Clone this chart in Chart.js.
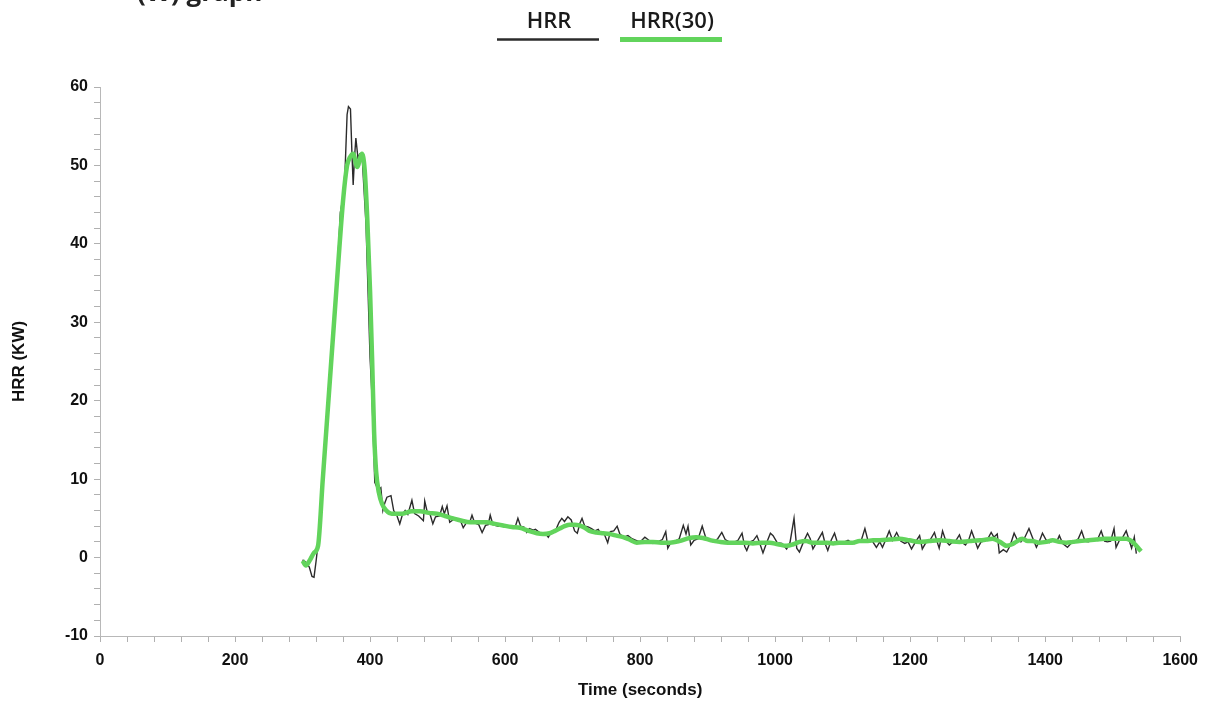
<!DOCTYPE html>
<html>
<head>
<meta charset="utf-8">
<script src="https://cdn.jsdelivr.net/npm/chart.js@4.4.1/dist/chart.umd.min.js"></script>
<style>
  html, body { margin: 0; padding: 0; background: #fff; }
  #wrap { width: 1207px; height: 707px; }
</style>
</head>
<body>
<div id="wrap"><canvas id="chart" width="1207" height="707"></canvas></div>
<script>
// values
var chartTitle = "(W) graph";
var seriesNames = ["HRR", "HRR(30)"];
var xTitle = "Time (seconds)";
var yTitle = "HRR (KW)";

// HRR, raw (seconds / kW)
var hrrTime = [300,305,310,314,317,320,324,330,336,342,348,353,356,360,363,366,368,371,373,375,377,379,382,385,388,391,394,397,400,403,405,407,412,416,419,422,425,431,435,440,444,448,452,456,462,466,472,479,481,485,489,493,497,503,507,510,514,518,524,530,534,538,543,548,551,555,561,566,571,575,578,582,590,597,604,610,615,619,623,628,632,636,642,645,651,656,660,664,669,675,680,684,688,693,698,703,707,711,714,718,723,728,733,738,742,746,752,756,761,766,770,776,782,788,794,800,807,813,819,826,833,838,841,846,852,858,864,868,871,875,880,886,892,897,903,909,915,921,926,932,938,945,951,955,958,963,968,973,977,982,987,993,997,1003,1010,1017,1022,1028,1032,1036,1042,1048,1052,1056,1062,1066,1070,1074,1078,1083,1088,1092,1097,1103,1108,1113,1118,1124,1128,1133,1138,1144,1150,1155,1159,1164,1169,1174,1180,1186,1192,1197,1202,1208,1214,1218,1224,1230,1236,1240,1243,1248,1253,1258,1263,1268,1273,1277,1282,1287,1291,1296,1300,1305,1310,1315,1320,1324,1329,1332,1338,1343,1348,1354,1359,1364,1370,1376,1381,1387,1392,1396,1401,1406,1412,1417,1421,1426,1433,1438,1444,1449,1454,1459,1464,1469,1474,1478,1483,1488,1492,1497,1502,1505,1510,1515,1520,1524,1528,1532,1535];
var hrrValue = [-0.3,-0.6,-1.2,-2.4,-2.5,-0.5,2.5,9,17,25,32,39,44,46,49.4,56.5,57.5,57.2,52,47.5,51,53.5,51,51.5,51.5,47,42.5,34,25.5,20.4,15,9.6,8.6,8.9,6.0,7.0,7.7,7.9,6.0,5.3,4.3,5.5,6.0,5.5,7.3,5.6,5.3,4.7,7.2,5.7,5.5,4.3,5.2,5.3,6.5,5.6,6.6,4.5,4.9,4.8,4.7,3.8,4.5,4.6,5.4,4.4,4.2,3.2,4.1,4.2,5.4,4.2,4.0,4.1,3.9,3.8,3.9,5.0,4.0,3.9,3.2,3.7,3.5,3.6,3.2,3.0,3.1,2.6,3.3,3.5,4.5,5.0,4.6,5.2,4.8,3.4,3.1,4.4,5.0,4.0,3.9,3.7,3.4,3.6,3.0,3.2,1.9,3.3,3.4,4.0,3.0,2.6,2.8,2.4,2.2,2.0,2.6,2.2,1.8,2.0,2.3,3.3,1.2,2.0,2.1,2.4,4.1,3.0,4.0,1.6,2.2,2.4,4.0,2.6,2.2,2.0,2.4,3.2,2.3,2.0,1.9,2.2,3.1,1.4,0.9,2.0,2.2,2.8,1.9,0.6,1.8,3.1,2.8,1.9,1.8,1.1,1.9,5.0,1.2,0.7,2.0,3.1,2.4,1.1,2.0,2.6,3.2,1.8,0.9,2.2,3.1,2.0,1.8,2.0,2.2,1.9,1.8,2.1,2.3,3.7,2.0,2.1,1.3,2.0,1.3,2.3,3.4,2.2,3.2,2.1,1.8,2.0,1.1,2.0,2.8,1.1,2.0,2.3,3.2,2.0,1.2,3.4,2.1,1.6,2.0,2.2,2.9,1.9,1.6,2.3,3.4,2.2,1.2,2.0,2.1,2.4,3.2,2.6,3.0,0.6,1.0,0.7,1.5,3.1,2.2,2.0,2.6,3.7,2.6,1.3,2.2,3.1,2.3,1.9,2.2,2.0,2.8,1.8,1.3,1.8,2.0,2.4,3.4,2.1,2.0,2.2,2.3,2.4,3.4,2.1,2.0,2.1,3.7,1.3,2.2,2.6,3.4,2.3,1.2,2.6,0.5];

// HRR(30), smoothed
var smoothTime = [300,305,311,317,323,330,340,350,360,366,370,375,381,388,392,396,400,403,406,409,413,418,424,432,448,462,474,487,499,511,523,536,548,560,573,585,597,610,622,635,647,656,666,674,681,688,696,703,710,718,725,735,745,755,765,775,784,795,807,819,831,844,858,873,883,893,905,918,930,943,955,967,980,992,1004,1017,1027,1036,1046,1055,1066,1076,1086,1095,1105,1115,1125,1135,1145,1155,1170,1184,1199,1214,1228,1243,1258,1273,1288,1303,1313,1322,1333,1343,1351,1357,1366,1374,1381,1391,1402,1411,1421,1431,1441,1451,1464,1476,1488,1500,1510,1520,1528,1535,1542];
var smoothValue = [-0.4,-1.0,-0.3,0.6,1.5,10,22,34,45.5,50,51,51.5,49.8,51.5,49.5,43,34,25.5,16,11,8.3,6.8,6.0,5.6,5.6,5.9,5.9,5.7,5.6,5.3,5.0,4.7,4.5,4.5,4.5,4.3,4.1,3.9,3.8,3.4,3.1,3.0,3.1,3.4,3.7,4.0,4.2,4.2,4.1,3.8,3.4,3.2,3.1,3.0,2.8,2.6,2.3,1.9,2.0,2.0,1.9,1.9,2.1,2.5,2.6,2.5,2.2,2.0,1.9,1.9,1.9,1.8,1.9,1.9,1.7,1.5,1.7,2.0,2.1,1.9,1.9,1.9,1.8,1.9,1.9,1.9,2.1,2.1,2.2,2.2,2.3,2.4,2.2,2.0,2.1,2.2,2.1,2.0,2.1,2.2,2.3,2.4,2.0,1.5,1.7,2.0,2.4,2.1,2.1,1.9,2.0,2.2,2.0,1.9,2.0,2.1,2.2,2.3,2.4,2.4,2.4,2.4,2.1,1.5,0.8];

function toPoints(xs, ys){
    var pts = [];
    for (var i = 0; i < xs.length; i++) {
        pts.push({x: xs[i], y: ys[i]});
    }
    return pts;
}

var tickFont = {family: "'Liberation Sans', Arial, sans-serif", size: 16, weight: 'bold'};
var titleFont = {family: "'Liberation Sans', Arial, sans-serif", size: 17, weight: 'bold'};

// title (cut off at the top) and the legend with the line under the text
var headerPlugin = {
    id: 'header',
    afterDraw: function(chart){
        var ctx = chart.ctx;
        ctx.save();
        ctx.fillStyle = '#222';
        ctx.font = "bold 26px 'Open Sans'";
        ctx.textAlign = 'left';
        ctx.textBaseline = 'alphabetic';
        ctx.fillText(chartTitle, 137, 1);

        var starts = [497, 620];
        var len = 102;
        ctx.font = "600 22px 'Open Sans'";
        ctx.textAlign = 'center';
        chart.data.datasets.forEach(function(ds, i){
            var x0 = starts[i];
            ctx.fillStyle = '#1a1a1a';
            ctx.fillText(ds.label, x0 + len / 2 + 1, 28);
            ctx.strokeStyle = ds.borderColor;
            ctx.lineWidth = i == 0 ? 2.5 : 5;
            ctx.beginPath();
            ctx.moveTo(x0, 39.5);
            ctx.lineTo(x0 + len, 39.5);
            ctx.stroke();
        });
        ctx.restore();
    }
};

var ctx = document.getElementById("chart").getContext("2d");
var myChart = new Chart(ctx, {
    type: 'line',
    data: {
        datasets: [
            {
                label: seriesNames[0],
                data: toPoints(hrrTime, hrrValue),
                borderColor: '#2b2b2b',
                borderWidth: 1.4,
                pointRadius: 0,
                tension: 0,
                order: 2
            },
            {
                label: seriesNames[1],
                data: toPoints(smoothTime, smoothValue),
                borderColor: '#62d45c',
                borderWidth: 4.5,
                pointRadius: 0,
                cubicInterpolationMode: 'monotone',
                order: 1
            }
        ]
    },
    options: {
        responsive: false,
        animation: false,
        layout: {padding: {top: 87, right: 26, left: 0, bottom: 0}},
        plugins: {
            legend: {display: false},
            tooltip: {enabled: false}
        },
        scales: {
            x: {
                type: 'linear',
                min: 0,
                max: 1600,
                afterFit: function(scale){ scale.height = 71; },
                border: {display: true, color: '#b8b8b8', width: 1},
                grid: {drawOnChartArea: false, drawTicks: true, tickLength: 6, tickColor: '#b0b0b0'},
                ticks: {
                    stepSize: 40,
                    autoSkip: false,
                    maxRotation: 0,
                    padding: 9,
                    color: '#111',
                    font: tickFont,
                    callback: function(v){ return v % 200 === 0 ? v : ''; }
                },
                title: {display: true, text: xTitle, color: '#111', font: titleFont, padding: {top: 6, bottom: 6}}
            },
            y: {
                min: -10,
                max: 60,
                afterFit: function(scale){ scale.width = 100; },
                border: {display: true, color: '#b8b8b8', width: 1},
                grid: {drawOnChartArea: false, drawTicks: true, tickLength: 6, tickColor: '#b0b0b0'},
                ticks: {
                    stepSize: 2,
                    autoSkip: false,
                    padding: 6,
                    color: '#111',
                    font: tickFont,
                    callback: function(v){ return v % 10 === 0 ? v : ''; }
                },
                title: {display: true, text: yTitle, color: '#111', font: titleFont, padding: {top: 9, bottom: 0}}
            }
        }
    },
    plugins: [headerPlugin]
});
</script>
</body>
</html>
